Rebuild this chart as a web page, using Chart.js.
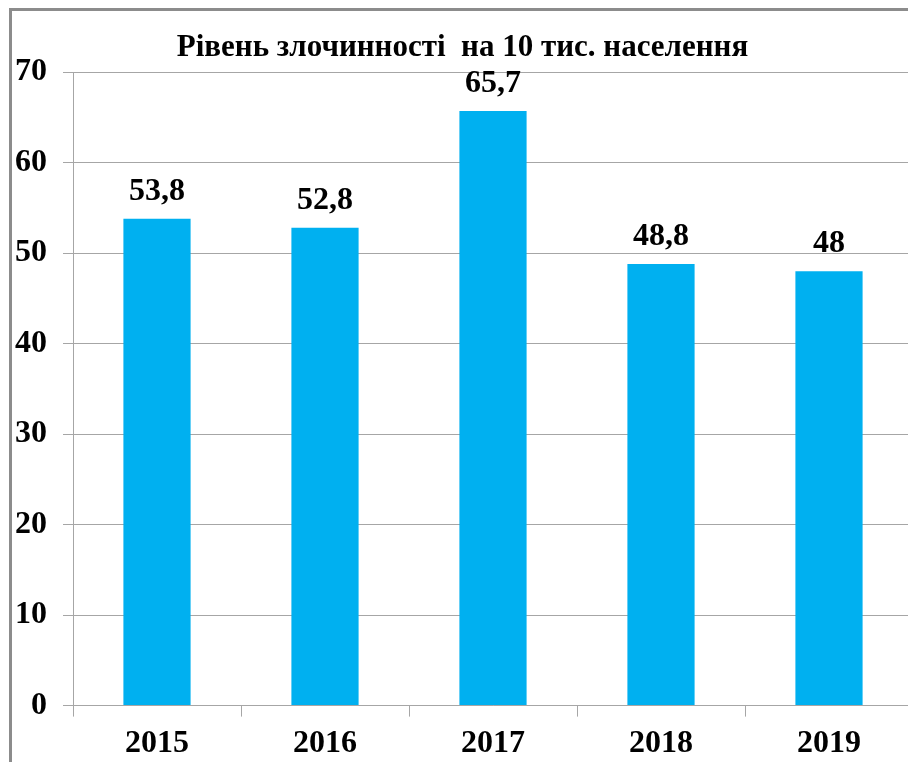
<!DOCTYPE html>
<html>
<head>
<meta charset="utf-8">
<script src="https://cdn.jsdelivr.net/npm/chart.js@4"></script>
<style>
  html, body { margin: 0; padding: 0; background: #fff; overflow: hidden; width: 908px; height: 762px; }
  #frame { position: absolute; left: 9px; top: 8px; width: 1000px; height: 900px;
           border-left: 3px solid #8c8c8c; border-top: 3px solid #8c8c8c; }
  #chart { position: absolute; left: 12px; top: 11px; }
</style>
</head>
<body>
<div id="frame"></div>
<canvas id="chart" width="910" height="760"></canvas>
<script>
// chart data
const years = ['2015', '2016', '2017', '2018', '2019'];
const crimeRate = [53.8, 52.8, 65.7, 48.8, 48];
const yTicks = [0, 10, 20, 30, 40, 50, 60, 70];

const fontFamily = '"Liberation Serif", "Times New Roman", serif';
const barColor = '#00B0F0';
const lineColor = '#a6a6a6';

// draws the numbers above each bar (comma as decimal separator)
const valueLabels = {
    id: 'valueLabels',
    afterDatasetsDraw(chart) {
        const ctx = chart.ctx;
        const meta = chart.getDatasetMeta(0);
        ctx.save();
        ctx.font = 'bold 32px ' + fontFamily;
        ctx.fillStyle = '#000';
        ctx.textAlign = 'center';
        ctx.textBaseline = 'alphabetic';
        meta.data.forEach((bar, i) => {
            const text = String(crimeRate[i]).replace('.', ',');
            ctx.fillText(text, bar.x, bar.y - 19);
        });
        ctx.restore();
    }
};

const ctx = document.getElementById('chart').getContext('2d');
new Chart(ctx, {
    type: 'bar',
    data: {
        labels: years,
        datasets: [{
            data: crimeRate,
            backgroundColor: barColor,
            borderWidth: 0,
            barPercentage: 0.4,
            categoryPercentage: 1.0
        }]
    },
    options: {
        responsive: false,
        animation: false,
        layout: { padding: { left: 0, right: 9, top: 0, bottom: 0 } },
        plugins: {
            legend: { display: false },
            tooltip: { enabled: false },
            title: {
                display: true,
                text: 'Рівень злочинності  на 10 тис. населення',
                color: '#000',
                font: { family: fontFamily, size: 31, weight: 'bold' },
                padding: { top: 18, bottom: 6 }
            }
        },
        scales: {
            x: {
                grid: {
                    offset: true,
                    drawOnChartArea: false,
                    drawTicks: true,
                    tickLength: 11,
                    color: lineColor
                },
                border: { color: lineColor, width: 1 },
                ticks: {
                    color: '#000',
                    padding: 8,
                    font: { family: fontFamily, size: 32, weight: 'bold' }
                }
            },
            y: {
                min: 0,
                max: 70,
                afterBuildTicks: axis => { axis.ticks = yTicks.map(v => ({ value: v })); },
                afterFit: axis => { axis.width = 61; },
                grid: { color: lineColor, tickLength: 10, lineWidth: 1 },
                border: { color: lineColor, width: 1 },
                ticks: {
                    color: '#000',
                    padding: 16,
                    font: { family: fontFamily, size: 32, weight: 'bold' }
                }
            }
        }
    },
    plugins: [valueLabels]
});
</script>
</body>
</html>
